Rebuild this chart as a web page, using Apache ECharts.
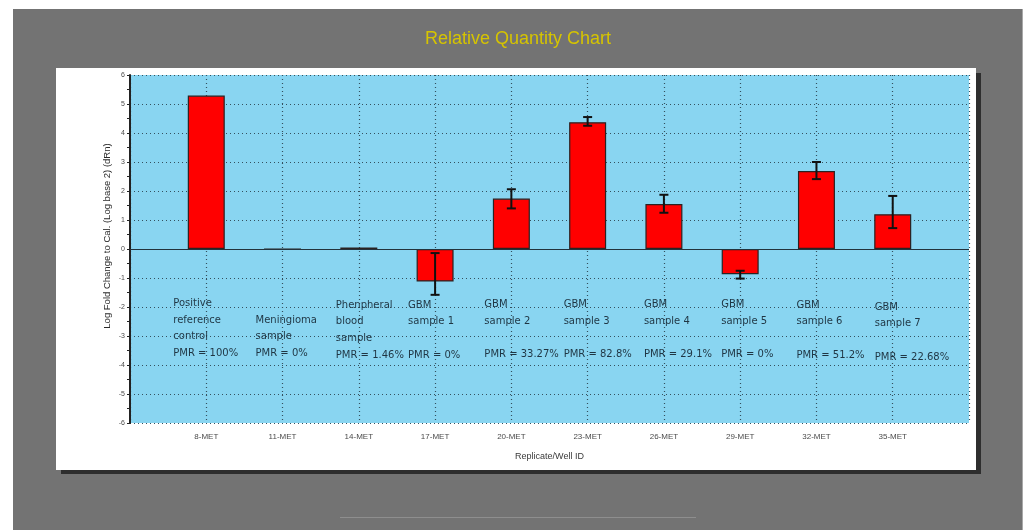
<!DOCTYPE html>
<html>
<head>
<meta charset="utf-8">
<title>Relative Quantity Chart</title>
<script src="https://cdn.jsdelivr.net/npm/echarts@6/dist/echarts.min.js"></script>
<style>
  html, body { margin: 0; padding: 0; background: #ffffff; }
  #chart { width: 1025px; height: 530px; }
</style>
</head>
<body>
<div id="chart"></div>
<script>
// Wells on the x axis; an empty slot on each side keeps the outer gridlines on the plot edges
const wells = ['', '8-MET', '11-MET', '14-MET', '17-MET', '20-MET', '23-MET', '26-MET', '29-MET', '32-MET', '35-MET', ''];

// Log2 fold change to calibrator per well
const foldChange = ['-', 5.29, 0, 0.05, -1.12, 1.74, 4.37, 1.55, -0.87, 2.69, 1.20, '-'];

// Error bar ranges: [well index, low, high]
const errorRanges = [
  [4, -1.58, -0.14],
  [5, 1.40, 2.06],
  [6, 4.25, 4.55],
  [7, 1.25, 1.87],
  [8, -1.02, -0.75],
  [9, 2.41, 3.00],
  [10, 0.72, 1.83]
];

// Sample descriptions written inside the plot, one entry per well
const sampleNotes = [
  ['Positive', 'reference', 'control', 'PMR = 100%'],
  ['', 'Meningioma', 'sample', 'PMR = 0%'],
  ['Phenpheral', 'blood', 'sample', 'PMR = 1.46%'],
  ['GBM', 'sample 1', '', 'PMR = 0%'],
  ['GBM', 'sample 2', '', 'PMR = 33.27%'],
  ['GBM', 'sample 3', '', 'PMR = 82.8%'],
  ['GBM', 'sample 4', '', 'PMR = 29.1%'],
  ['GBM', 'sample 5', '', 'PMR = 0%'],
  ['GBM', 'sample 6', '', 'PMR = 51.2%'],
  ['GBM', 'sample 7', '', 'PMR = 22.68%']
];
// Value at which the first text row of each note sits
const noteTop = [-1.88, -1.88, -1.94, -1.94, -1.91, -1.91, -1.91, -1.91, -1.94, -2.01];

// Layout of the note blocks (pixels)
const noteShiftX = [-33, -27, -23, -27, -27, -24, -20, -19, -20, -18];
const noteRowGap = 16.6;

const yTicks = { min: -6, max: 6, step: 1 };

const noteData = sampleNotes.map((_, i) => [i + 1, noteTop[i], i]);

const chart = echarts.init(document.getElementById('chart'), null, { renderer: 'canvas' });

const option = {
  backgroundColor: '#ffffff',
  animation: false,
  graphic: [
    // grey frame
    { type: 'rect', z: -100, shape: { x: 13, y: 9, width: 1009, height: 530 }, style: { fill: '#737373' } },
    { type: 'rect', z: -100, shape: { x: 1022, y: 9, width: 1, height: 530 }, style: { fill: '#a8a8a8' } },
    // white panel with drop shadow
    { type: 'rect', z: -99, shape: { x: 61, y: 73, width: 920, height: 401 }, style: { fill: '#2e2e2e' } },
    { type: 'rect', z: -98, shape: { x: 56, y: 68, width: 920, height: 402 }, style: { fill: '#ffffff' } },
    // faint rule near the bottom of the frame
    { type: 'rect', z: -97, shape: { x: 340, y: 517, width: 356, height: 1 }, style: { fill: '#8e8e8e' } },
    {
      type: 'text', x: 518, y: 39, z: 10,
      style: {
        text: 'Relative Quantity Chart', fill: '#d6c400',
        font: '18px "Liberation Sans", Arial, sans-serif',
        textAlign: 'center', textVerticalAlign: 'middle'
      }
    },
    {
      type: 'text', x: 107, y: 236, rotation: Math.PI / 2, z: 10,
      style: {
        text: 'Log Fold Change to Cal. (Log base 2) (dRn)', fill: '#2a2a2a',
        font: '9.5px "Liberation Sans", Arial, sans-serif',
        textAlign: 'center', textVerticalAlign: 'middle'
      }
    }
  ],
  grid: {
    left: 130, right: 56, top: 75, bottom: 107,
    show: true, backgroundColor: '#89d5f1', borderWidth: 0
  },
  xAxis: {
    type: 'category',
    data: wells,
    boundaryGap: false,
    name: 'Replicate/Well ID',
    nameLocation: 'middle',
    nameGap: 29,
    nameTextStyle: { color: '#3a3a3a', fontSize: 9, fontFamily: '"Liberation Sans", Arial, sans-serif' },
    axisLine: { show: false },
    axisTick: { show: false },
    axisLabel: {
      interval: 0, margin: 10, color: '#4a4a4a', fontSize: 8,
      fontFamily: '"Liberation Sans", Arial, sans-serif'
    },
    splitLine: {
      show: true, interval: 0,
      lineStyle: { color: '#34505e', type: [1, 3], width: 1.2 }
    }
  },
  yAxis: {
    type: 'value',
    min: yTicks.min, max: yTicks.max, interval: yTicks.step,
    axisLine: { show: true, onZero: false, lineStyle: { color: '#222222', width: 2 } },
    axisTick: { show: true, length: 3, lineStyle: { color: '#222222' } },
    minorTick: { show: true, splitNumber: 2, length: 3, lineStyle: { color: '#222222' } },
    axisLabel: {
      margin: 5, color: '#4a4a4a', fontSize: 7,
      fontFamily: '"Liberation Sans", Arial, sans-serif'
    },
    splitLine: {
      show: true,
      lineStyle: { color: '#34505e', type: [1, 3], width: 1.2 }
    }
  },
  series: [
    {
      type: 'bar',
      data: foldChange,
      barWidth: 37,
      itemStyle: { color: '#ff0000', borderColor: '#2a2222', borderWidth: 1.2 },
      markLine: {
        silent: true,
        symbol: 'none',
        label: { show: false },
        lineStyle: { color: '#22323c', type: 'solid', width: 1.2 },
        data: [{ yAxis: 0 }]
      },
      z: 3
    },
    {
      type: 'custom',
      name: 'error',
      data: errorRanges,
      encode: { x: 0, y: [1, 2] },
      z: 5,
      renderItem: function (params, api) {
        const x = api.value(0);
        const lo = api.coord([x, api.value(1)]);
        const hi = api.coord([x, api.value(2)]);
        const cap = 4.5;
        const style = { stroke: '#111111', lineWidth: 2 };
        return {
          type: 'group',
          children: [
            { type: 'line', shape: { x1: lo[0], y1: lo[1], x2: hi[0], y2: hi[1] }, style: style },
            { type: 'line', shape: { x1: lo[0] - cap, y1: lo[1], x2: lo[0] + cap, y2: lo[1] }, style: style },
            { type: 'line', shape: { x1: hi[0] - cap, y1: hi[1], x2: hi[0] + cap, y2: hi[1] }, style: style }
          ]
        };
      }
    },
    {
      type: 'custom',
      name: 'notes',
      data: noteData,
      encode: { x: 0, y: 1 },
      z: 6,
      silent: true,
      renderItem: function (params, api) {
        const idx = api.value(2);
        const p = api.coord([api.value(0), api.value(1)]);
        const rows = sampleNotes[idx];
        return {
          type: 'group',
          children: rows.map((row, r) => ({
            type: 'text',
            x: p[0] + noteShiftX[idx],
            y: p[1] + r * noteRowGap,
            style: {
              text: row,
              fill: '#1f3543',
              font: '10px "DejaVu Sans", Verdana, sans-serif',
              textAlign: 'left',
              textVerticalAlign: 'middle'
            }
          }))
        };
      }
    }
  ]
};

chart.setOption(option);
</script>
</body>
</html>
